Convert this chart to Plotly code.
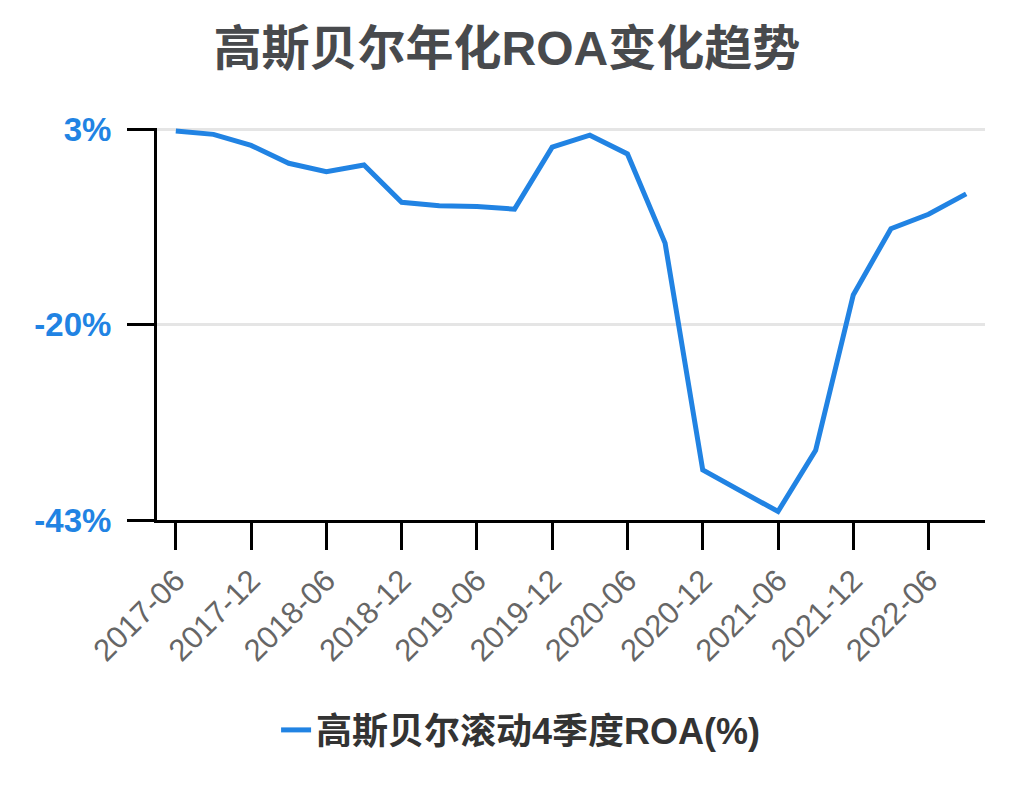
import plotly.graph_objects as go

# --- Data ---
quarters = [
    "2017-06", "2017-09", "2017-12", "2018-03", "2018-06", "2018-09",
    "2018-12", "2019-03", "2019-06", "2019-09", "2019-12", "2020-03",
    "2020-06", "2020-09", "2020-12", "2021-03", "2021-06", "2021-09",
    "2021-12", "2022-03", "2022-06", "2022-09",
]
roa = [
    2.8, 2.4, 1.1, -1.0, -2.0, -1.2,
    -5.6, -6.0, -6.1, -6.4, 0.9, 2.3,
    0.1, -10.4, -37.1, -39.6, -42.0, -34.8,
    -16.5, -8.7, -7.0, -4.6,
]
y_ticks = [3, -20, -43]
x_ticks = quarters[::2]

FONT = "Liberation Sans, Arial, Noto Sans CJK SC, sans-serif"
BLUE = "#2183e3"

fig = go.Figure(
    go.Scatter(
        x=quarters, y=roa, mode="lines",
        name="高斯贝尔滚动4季度ROA(%)",
        line=dict(color=BLUE, width=5),
    )
)

# page has an ~8px body margin, so everything is shifted up/left by 8
fig.update_layout(
    width=1014, height=810,
    paper_bgcolor="white", plot_bgcolor="white",
    font=dict(family=FONT),
    title=dict(
        text="高斯贝尔年化ROA变化趋势",
        x=0.492, xanchor="center", xref="container",
        y=1 - 40 / 810, yanchor="middle",
        font=dict(size=48, color="#484a4d", weight="bold"),
    ),
    margin=dict(l=149, r=37, t=120, b=298),
    showlegend=True,
    legend=dict(
        orientation="h", xref="container", yref="container",
        x=0.506, xanchor="center", y=1 - 722 / 810, yanchor="middle",
        font=dict(size=36, color="#333333", weight="bold"),
    ),
    xaxis=dict(
        type="category", range=[-0.5, len(quarters) - 0.5],
        tickmode="array", tickvals=x_ticks, ticktext=x_ticks,
        tickangle=-45, tickfont=dict(size=31, color="#666666"),
        ticks="outside", ticklen=27, tickwidth=3, tickcolor="black",
        showline=True, linecolor="black", linewidth=3,
        showgrid=False, zeroline=False,
    ),
    yaxis=dict(
        range=[-43, 3.15],
        tickmode="array", tickvals=y_ticks,
        ticktext=[f"{v}%" for v in y_ticks],
        tickfont=dict(size=33, color=BLUE, weight="bold"),
        ticklabelstandoff=9,
        ticks="outside", ticklen=27, tickwidth=3, tickcolor="black",
        showline=True, linecolor="black", linewidth=3,
        showgrid=True, gridcolor="#e5e5e5", gridwidth=3,
        zeroline=False,
    ),
)

fig.write_html("out.html")
